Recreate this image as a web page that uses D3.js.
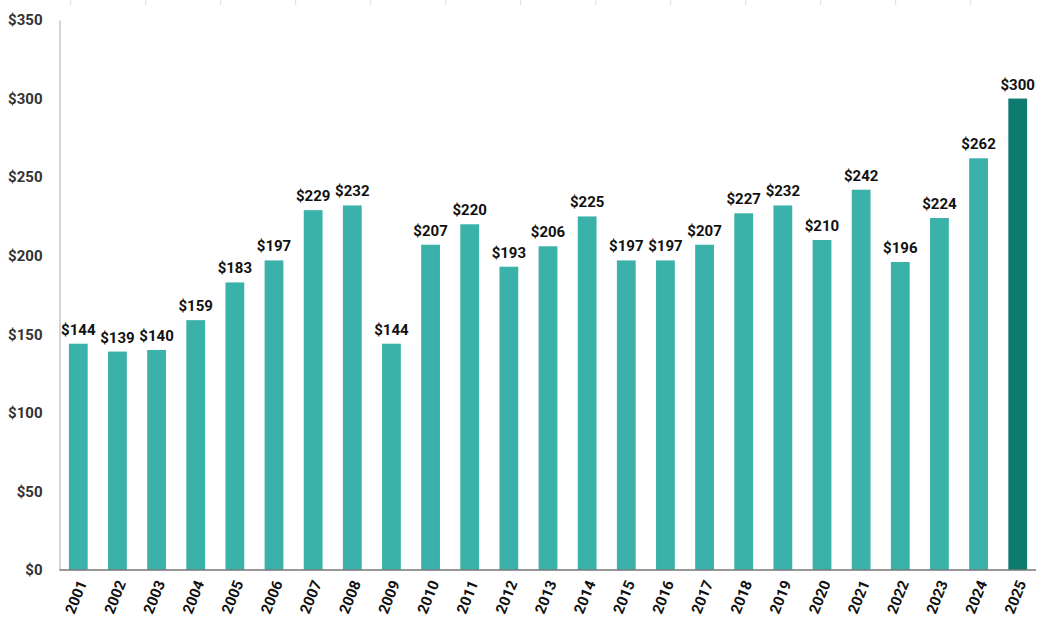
<!DOCTYPE html>
<html>
<head>
<meta charset="utf-8">
<title>Bar chart</title>
<script src="https://d3js.org/d3.v7.min.js"></script>
<style>
  body { margin: 0; background: #fff; }
  text { font-family: Roboto, "Noto Sans", sans-serif; }
</style>
</head>
<body>
<div id="chart"></div>
<script>
var years = ["2001","2002","2003","2004","2005","2006","2007","2008","2009","2010",
             "2011","2012","2013","2014","2015","2016","2017","2018","2019","2020",
             "2021","2022","2023","2024","2025"];
var values = [144,139,140,159,183,197,229,232,144,207,
              220,193,206,225,197,197,207,227,232,210,
              242,196,224,262,300];
var yTicks = [0,50,100,150,200,250,300,350];
var highlightYear = "2025";

var width = 1038, height = 618;
var margin = {top: 20, right: 1.5, bottom: 48, left: 59.5};

var svg = d3.select("#chart").append("svg")
    .attr("width", width)
    .attr("height", height);

// faint tick marks along the top edge
svg.append("g").selectAll("line")
    .data(d3.range(70.7, width, 75))
    .enter().append("line")
    .attr("x1", function(d) { return d; })
    .attr("x2", function(d) { return d; })
    .attr("y1", 0).attr("y2", 5)
    .attr("stroke", "#ddd").attr("stroke-width", 1);

var x = d3.scaleBand()
    .domain(years)
    .range([margin.left, width - margin.right])
    .paddingInner(0.52)
    .paddingOuter(0.24);

var y = d3.scaleLinear()
    .domain([0, 350])
    .range([height - margin.bottom, margin.top]);

// Y axis
var yAxis = svg.append("g")
    .attr("transform", "translate(" + margin.left + ",0)")
    .call(d3.axisLeft(y).tickValues(yTicks).tickSize(0).tickPadding(17)
        .tickFormat(function(d) { return "$" + d; }));
yAxis.select(".domain").attr("stroke", "#aaa").attr("stroke-width", 1);
yAxis.selectAll("text")
    .style("font-size", "15px").style("font-weight", "bold").attr("fill", "#333");

// bars
svg.append("g").selectAll("rect")
    .data(years)
    .enter().append("rect")
    .attr("x", function(d) { return x(d); })
    .attr("width", x.bandwidth())
    .attr("y", function(d, i) { return y(values[i]); })
    .attr("height", function(d, i) { return y(0) - y(values[i]); })
    .attr("fill", function(d) { return d === highlightYear ? "#0e7b70" : "#3ab2aa"; });

// value labels
svg.append("g").selectAll("text")
    .data(years)
    .enter().append("text")
    .attr("x", function(d) { return x(d) + x.bandwidth() / 2; })
    .attr("y", function(d, i) { return y(values[i]) - 9; })
    .attr("text-anchor", "middle")
    .style("font-size", "15px").style("font-weight", "bold")
    .attr("fill", "#111")
    .text(function(d, i) { return "$" + values[i]; });

// X axis
var xAxis = svg.append("g")
    .attr("transform", "translate(0," + y(0) + ")")
    .call(d3.axisBottom(x).tickSize(0).tickPadding(0));
xAxis.select(".domain").attr("stroke", "#777").attr("stroke-width", 1.5)
    .attr("d", "M" + margin.left + ",0H" + (width - 2));
xAxis.selectAll("text")
    .style("font-size", "15px").style("font-weight", "bold").attr("fill", "#111")
    .attr("text-anchor", "end")
    .attr("dy", "0.35em")
    .attr("transform", "translate(4,11) rotate(-68)");
</script>
</body>
</html>
